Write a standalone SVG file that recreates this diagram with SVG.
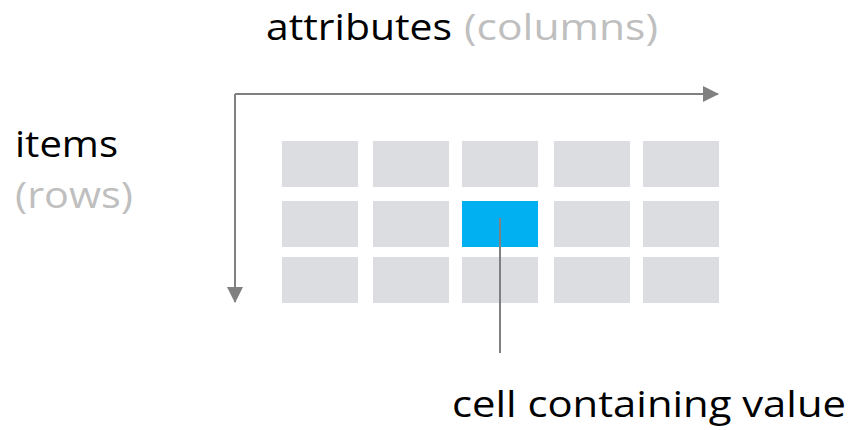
<svg xmlns="http://www.w3.org/2000/svg" width="852" height="430" viewBox="0 0 852 430">
  <style>
    .lbl { font-family: "Open Sans", "Noto Sans", "Liberation Sans", sans-serif; font-size: 36px; }
    .main { fill: #000000; }
    .sub { fill: #BFBFBF; }
    .cell { fill: #DCDDE0; }
    .cell.hi { fill: #00B0F0; }
    .axis { stroke: #808080; stroke-width: 2; fill: none; }
  </style>
  <defs>
    <marker id="head" markerUnits="userSpaceOnUse" markerWidth="16" markerHeight="16" refX="15" refY="8" orient="auto">
      <path d="M0,0 L16,8 L0,16 Z" fill="#808080"/>
    </marker>
  </defs>
  <rect width="852" height="430" fill="#FFFFFF"/>

  <!-- axis labels -->
  <g id="label-attributes">
    <text class="lbl" x="266" y="40"><tspan class="main" textLength="186" lengthAdjust="spacingAndGlyphs">attributes</tspan><tspan class="sub" x="464" textLength="194" lengthAdjust="spacingAndGlyphs">(columns)</tspan></text>
  </g>
  <g id="label-items">
    <text class="lbl main" x="15" y="157" textLength="103" lengthAdjust="spacingAndGlyphs">items</text>
    <text class="lbl sub" x="15" y="208" textLength="118" lengthAdjust="spacingAndGlyphs">(rows)</text>
  </g>

  <!-- table grid: 3 rows x 5 columns -->
  <g id="grid">
    <rect class="cell" x="282" y="141" width="76" height="46"/>
    <rect class="cell" x="373" y="141" width="76" height="46"/>
    <rect class="cell" x="462" y="141" width="76" height="46"/>
    <rect class="cell" x="554" y="141" width="76" height="46"/>
    <rect class="cell" x="643" y="141" width="76" height="46"/>

    <rect class="cell" x="282" y="201" width="76" height="46"/>
    <rect class="cell" x="373" y="201" width="76" height="46"/>
    <rect class="cell hi" x="462" y="201" width="76" height="46"/>
    <rect class="cell" x="554" y="201" width="76" height="46"/>
    <rect class="cell" x="643" y="201" width="76" height="46"/>

    <rect class="cell" x="282" y="257" width="76" height="46"/>
    <rect class="cell" x="373" y="257" width="76" height="46"/>
    <rect class="cell" x="462" y="257" width="76" height="46"/>
    <rect class="cell" x="554" y="257" width="76" height="46"/>
    <rect class="cell" x="643" y="257" width="76" height="46"/>
  </g>

  <!-- axes and pointer -->
  <g id="connectors">
    <path class="axis" d="M235,94 L718,94" marker-end="url(#head)"/>
    <path class="axis" d="M235,94 L235,302" marker-end="url(#head)"/>
    <path class="axis" d="M500,218 L500,353"/>
  </g>

  <g id="label-cell">
    <text class="lbl main" x="452" y="417" textLength="394" lengthAdjust="spacingAndGlyphs">cell containing value</text>
  </g>
</svg>
